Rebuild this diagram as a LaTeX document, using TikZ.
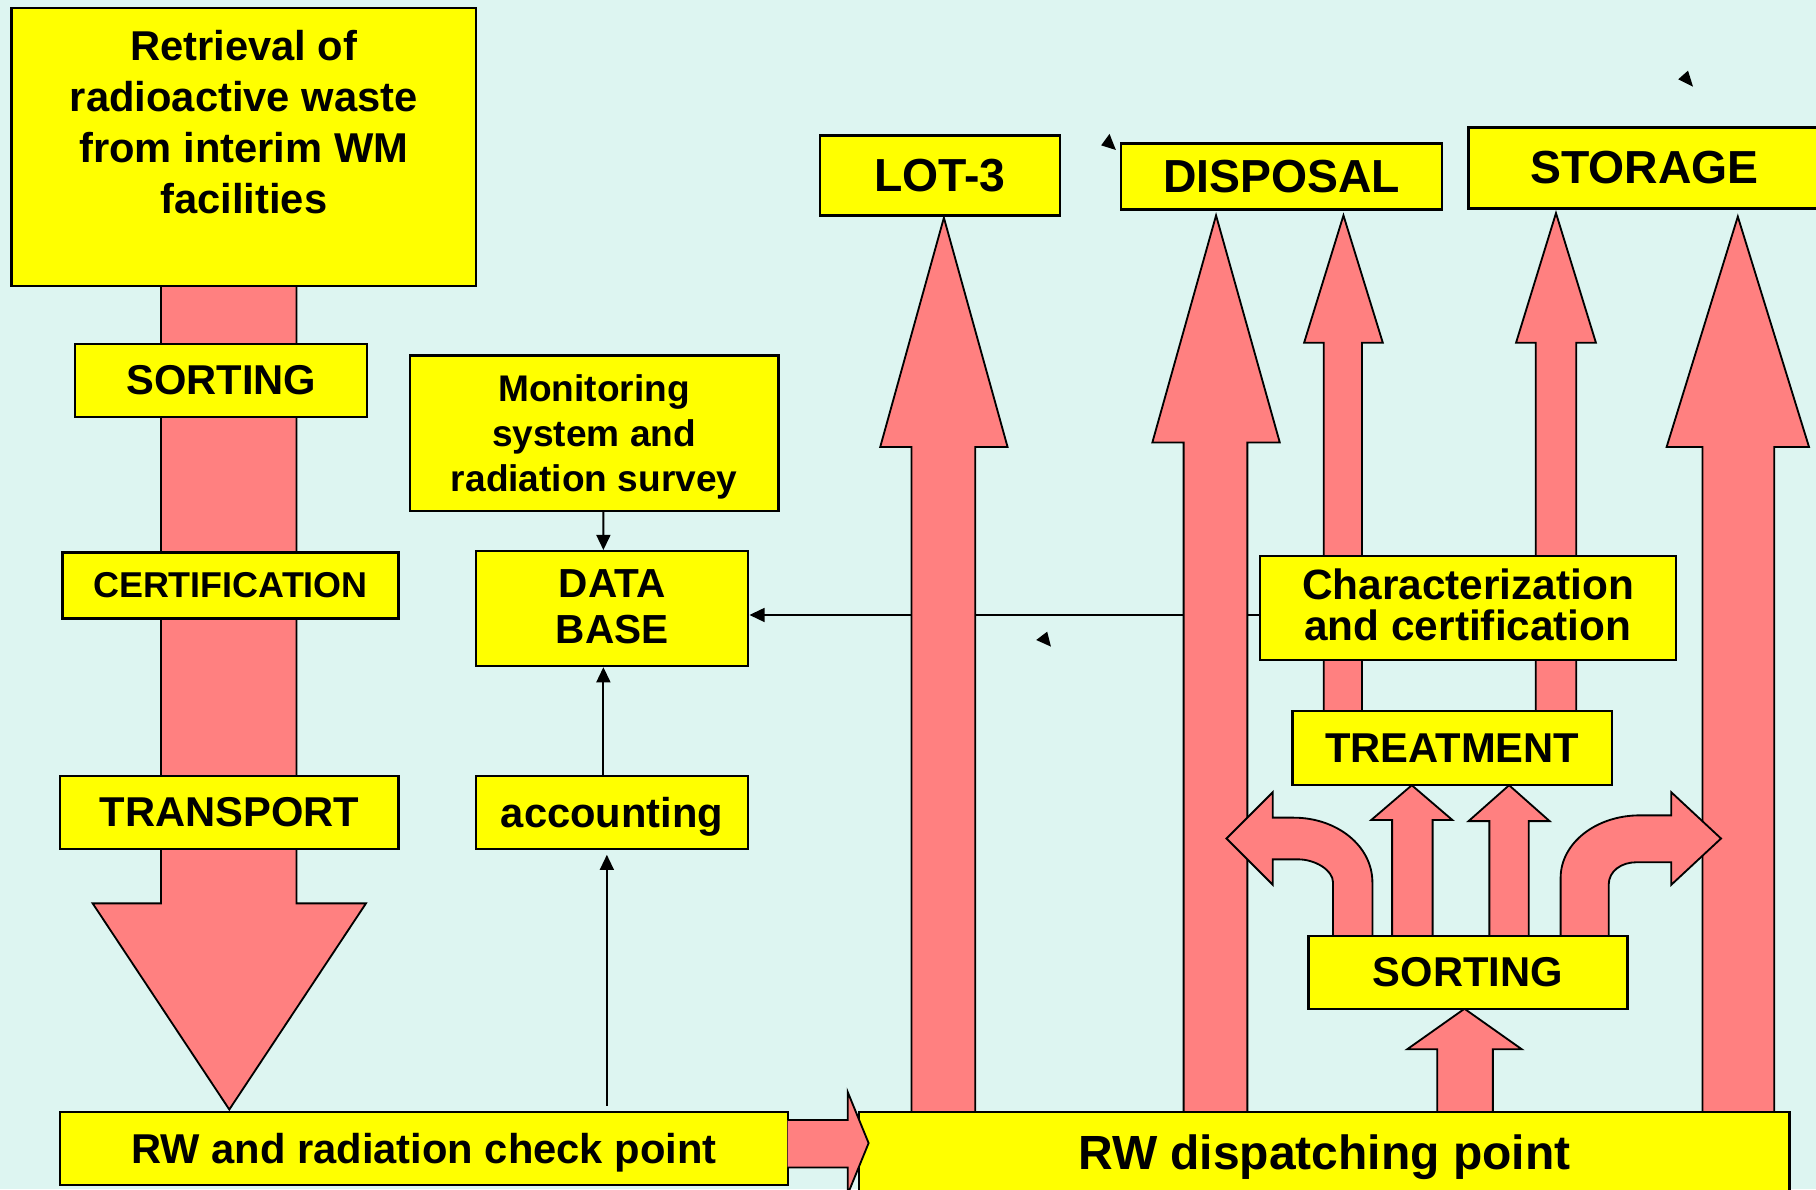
\documentclass[tikz,border=0pt]{standalone}
\usepackage{fontspec}
\setmainfont{Liberation Sans}
\usetikzlibrary{arrows.meta}
\pgfdeclarelayer{back}
\pgfsetlayers{back,main}
\definecolor{sea}{RGB}{221,245,241}
\definecolor{rose}{RGB}{255,128,128}
\definecolor{lemon}{RGB}{255,255,0}

\newcommand{\blockup}[7]{%
  \draw[blk] (#1,#5) -- (#1,#6) -- (#3,#6) -- ({(#3+#4)/2},#7) -- (#4,#6) -- (#2,#6) -- (#2,#5) -- cycle;}

\begin{document}
\begin{tikzpicture}[x=0.01cm, y=-0.01cm,
    box/.style={draw, line width=.6pt, fill=lemon, inner sep=0pt, align=center,
      font=\bfseries\fontsize{10.24}{12.52}\selectfont},
    big/.style={font=\bfseries\fontsize{11.38}{13}\selectfont},
    blk/.style={draw, fill=rose, line width=.45pt},
    conn/.style={-{Triangle[length=1.3mm,width=1.2mm]}, line width=.45pt}]

      \useasboundingbox (0,0) rectangle (1568,1027);

      \node[box, minimum width=4.01cm, minimum height=2.4cm] (ret) at (210.5,127) {Retrieval of\\radioactive waste\\from interim WM\\facilities\\ \mbox{}};
      \node[box, minimum width=2.52cm, minimum height=.63cm] (sortA) at (191,328.5) {SORTING};
      \node[box, minimum width=2.9cm, minimum height=.57cm, font=\bfseries\fontsize{8.82}{10}\selectfont] (cert) at (199,505.5) {CERTIFICATION};
      \node[box, minimum width=2.92cm, minimum height=.63cm] (trans) at (198,701.5) {TRANSPORT};
      \node[box, minimum width=6.28cm, minimum height=.63cm, text depth=0pt] (chk) at (366,991.5) {RW and radiation check point};

      \node[box, minimum width=3.18cm, minimum height=1.34cm, text depth=0pt, font=\bfseries\fontsize{9.1}{11.1}\selectfont] (mon) at (513,374) {Monitoring\\system and\\radiation survey};
      \node[box, minimum width=2.35cm, minimum height=.99cm, text depth=.04cm, font=\bfseries\fontsize{9.96}{11.38}\selectfont] (db) at (528.5,525.5) {DATA\\BASE};
      \node[box, minimum width=2.35cm, minimum height=.63cm, text depth=0pt] (acc) at (528.5,701.5) {accounting};

      \node[box, big, minimum width=2.07cm, minimum height=.69cm] (lot) at (811.5,151.5) {LOT-3};
      \node[box, big, minimum width=2.77cm, minimum height=.57cm] (dsp) at (1106.5,152.5) {DISPOSAL};
      \node[box, big, minimum width=3.04cm, minimum height=.70cm] (sto) at (1420,145) {STORAGE};
      \node[box, minimum width=3.59cm, minimum height=.90cm, text depth=.06cm, font=\bfseries\fontsize{10.4}{10.24}\selectfont] (chr) at (1267.5,525) {Characterization\\and certification};
      \node[box, minimum width=2.76cm, minimum height=.64cm] (trt) at (1254,646) {TREATMENT};
      \node[box, minimum width=2.75cm, minimum height=.63cm] (sortB) at (1267.5,839.5) {SORTING};
      \node[box, minimum width=8.03cm, minimum height=.70cm, text depth=0pt, font=\bfseries\fontsize{11.78}{13}\selectfont] (rwd) at (1143.5,995) {RW dispatching point};

      \coordinate (accin) at ([xshift=-.045cm, yshift=-.04cm]acc.south);
      \coordinate (chrout) at ([yshift=-.06cm]chr.west);

      \draw[conn] ([xshift=.08cm]mon.south) -- ([xshift=-.075cm]db.north);
      \draw[conn] ([xshift=-.075cm]acc.north) -- ([xshift=-.075cm]db.south);
      \draw[conn, shorten <=.04cm] (accin |- chk.north) -- (accin);

      \begin{pgfonlayer}{back}
        \fill[sea] (0,0) rectangle (1568,1027);
        \draw[blk] (139,240) -- (139,780) -- (80,780) -- (198,958) -- (316,780) -- (256,780) -- (256,240) -- cycle;
        \draw[conn] (chrout) -- (chrout -| db.east);

        \blockup{787}{842}{760}{870}{965}{386}{188}
        \blockup{1022}{1077}{995}{1105}{965}{382}{186}
        \blockup{1143}{1176}{1126}{1194}{620}{296}{186}
        \blockup{1326}{1361}{1309}{1378}{620}{296}{184}
        \blockup{1470}{1532}{1439}{1562}{965}{386}{187}
        \blockup{1241}{1289}{1215}{1314}{965}{906}{871}
        \blockup{1202}{1237}{1184}{1254}{812}{708}{678}
        \blockup{1286}{1320}{1268}{1338}{812}{709}{678}

        \draw[blk] (1151,812) -- (1151,762) .. controls (1151,751) and (1135,742) .. (1121,742) -- (1099,742) -- (1099,764)
          -- (1059,724) -- (1099,684) -- (1099,706) -- (1117,706) .. controls (1154,706) and (1185,730) .. (1185,762) -- (1185,812) -- cycle;
        \draw[blk] (1389,812) -- (1389,764) .. controls (1389,752) and (1400,744.5) .. (1413,744.5) -- (1443,744.5) -- (1443,764)
          -- (1486,724) -- (1443,684) -- (1443,704) -- (1416,704) .. controls (1378,704) and (1347.5,728) .. (1347.5,758) -- (1347.5,812) -- cycle;
      \end{pgfonlayer}

      \draw[blk] (680,967) -- (732,967) -- (732,943) -- (750,987) -- (732,1031) -- (732,1008) -- (680,1008);

      \fill (958,115.6) -- (950.8,125.5) -- (963.5,129.5) -- cycle;
      \fill (1457.5,61) -- (1449,68.5) -- (1461.8,74.8) -- cycle;
      \fill (904.2,545.4) -- (894.7,552.6) -- (907.4,558.3) -- cycle;
    \end{tikzpicture}
\end{document}
